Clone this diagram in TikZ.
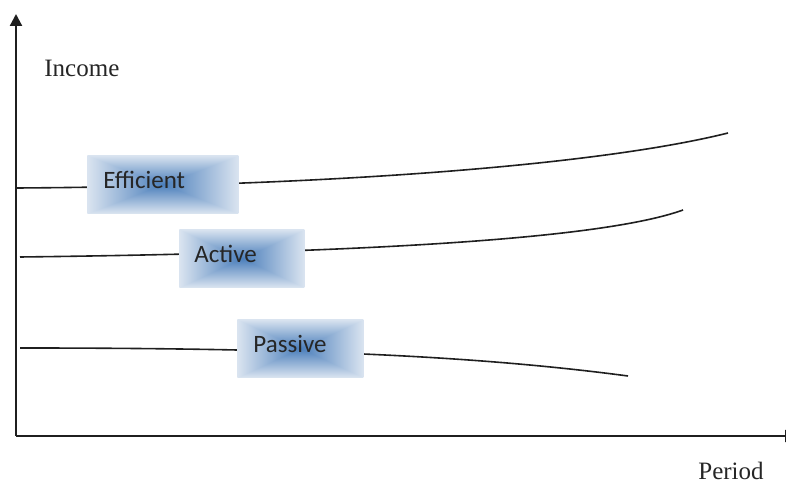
\documentclass[tikz,border=0pt]{standalone}
\usepackage{fontspec}
\setmainfont{Liberation Serif}
\newfontfamily\calibri{Carlito}
\usetikzlibrary{arrows.meta}
\pgfdeclarefunctionalshading{rectglow}{\pgfpoint{-50bp}{-50bp}}{\pgfpoint{50bp}{50bp}}{}{
abs exch abs 2 copy lt {exch} if pop 25 div dup 1 gt {pop 1} if
dup dup 0.565 mul 0.29 add exch 0.40 mul 0.494 add 3 -1 roll 0.208 mul 0.733 add
}
\begin{document}
\begin{tikzpicture}[x=0.5pt,y=-0.5pt,
  curve/.style={line width=0.8pt, black!88},
  axis/.style={line width=1.1pt, black!88, -{Triangle[length=6pt,width=6pt]}},
  glowbox/.style={shading=rectglow, draw=none, inner sep=0pt, anchor=north west},
  lbl/.style={font=\calibri\fontsize{12.5}{15}\selectfont, text=black!85, anchor=base west, inner sep=0pt},
  axlbl/.style={font=\fontsize{12.5}{15}\selectfont, text=black!85, anchor=base west, inner sep=0pt}]
\useasboundingbox (0,0) rectangle (786,485);
% axes
\coordinate (o) at (16,436);
\coordinate (ytop) at (16,14);
\coordinate (xend) at (797,436);
\draw[axis] (o) -- (ytop);
\draw[axis] (o) -- (xend);
\node[axlbl] (income) at (44,77) {Income};
\node[axlbl] (period) at (698,480) {Period};
% curves
\coordinate (e0) at (17,188);
\coordinate (e1) at (728,133);
\coordinate (a0) at (20,257);
\coordinate (a1) at (683,210);
\coordinate (p0) at (20,348);
\coordinate (p1) at (628,376);
\draw[curve] (e0) .. controls (330,186) and (600,165) .. (e1);
\draw[curve] (a0) .. controls (350,253) and (600,240) .. (a1);
\draw[curve] (p0) .. controls (290,348) and (470,355) .. (p1);
% boxes
\node[glowbox, minimum width=75.5pt, minimum height=29pt] (effbox) at (87,155) {};
\node[lbl] (efftxt) at (103,189) {Efficient};
\node[glowbox, minimum width=62.5pt, minimum height=29pt] (actbox) at (179,229) {};
\node[lbl] (acttxt) at (194,263) {Active};
\node[glowbox, minimum width=63pt, minimum height=29pt] (pasbox) at (237,319) {};
\node[lbl] (pastxt) at (253,353) {Passive};
\end{tikzpicture}
\end{document}
